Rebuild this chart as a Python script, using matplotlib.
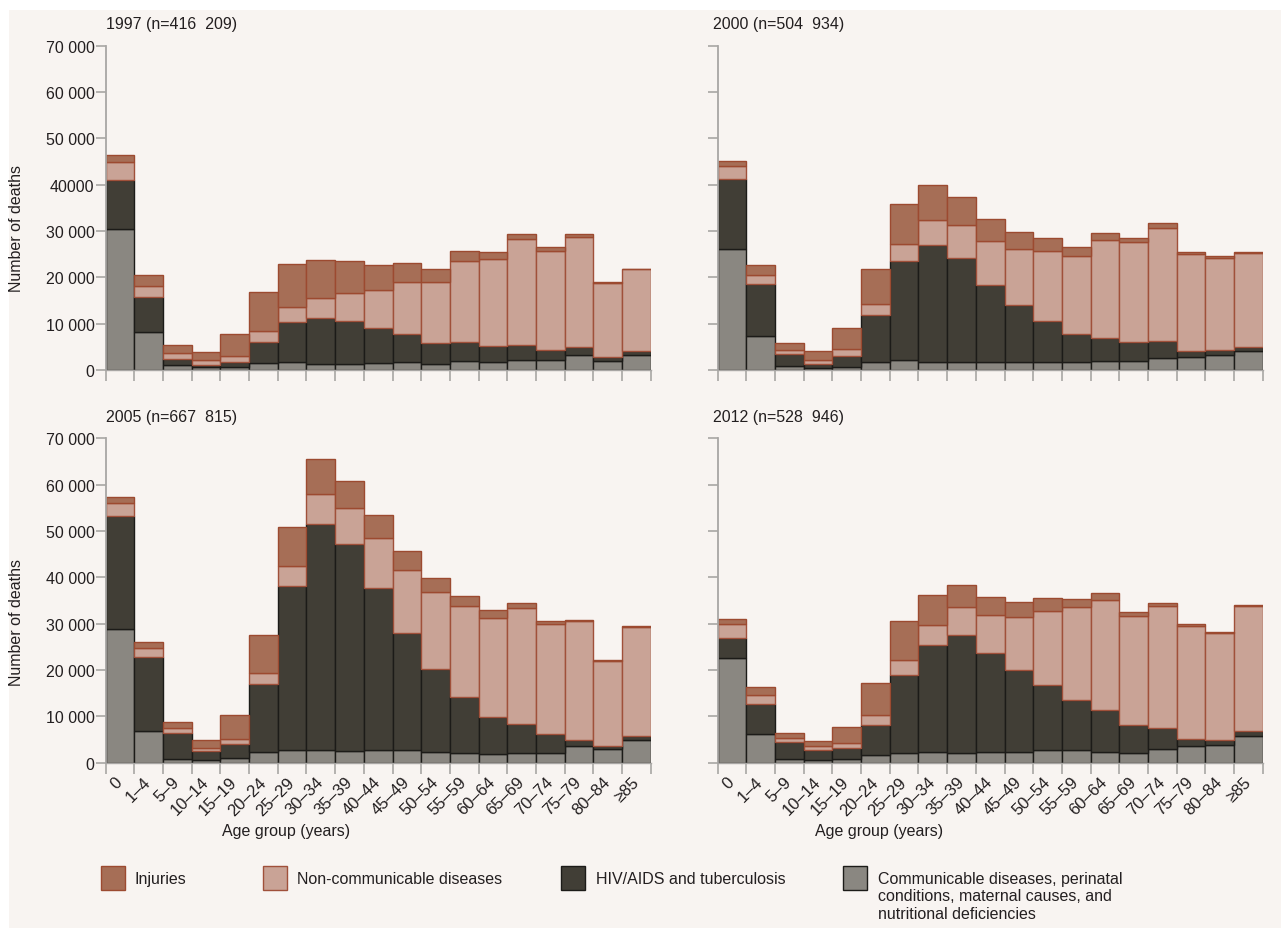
import matplotlib
matplotlib.use("Agg")
import matplotlib.pyplot as plt
from matplotlib.patches import Rectangle
import numpy as np

plt.rcParams['font.family'] = ['Liberation Sans', 'DejaVu Sans']
plt.rcParams['font.size'] = 11.5

ages = ["0", "1–4", "5–9", "10–14", "15–19", "20–24", "25–29", "30–34", "35–39",
        "40–44", "45–49", "50–54", "55–59", "60–64", "65–69", "70–74", "75–79",
        "80–84", "≥85"]

titles = ["1997 (n=416  209)", "2000 (n=504  934)", "2005 (n=667  815)", "2012 (n=528  946)"]

# deaths in thousands, per cause
comm_1997 = [30.4, 8.1, 1.0, 0.6, 0.7, 1.6, 1.65, 1.4, 1.4, 1.5, 1.65, 1.4, 1.9, 1.65, 2.1, 2.2, 3.2, 2.0, 3.2]
hiv_1997 = [10.6, 7.6, 1.3, 0.55, 1.1, 4.4, 8.65, 9.8, 9.2, 7.5, 6.15, 4.4, 4.1, 3.45, 3.4, 2.2, 1.7, 0.8, 1.0]
ncd_1997 = [4.0, 2.4, 1.4, 0.95, 1.2, 2.4, 3.2, 4.3, 6.0, 8.3, 11.3, 13.3, 17.5, 18.9, 22.7, 21.3, 23.8, 16.0, 17.5]
inj_1997 = [1.4, 2.3, 1.8, 1.8, 4.7, 8.4, 9.3, 8.2, 6.9, 5.3, 4.0, 2.6, 2.1, 1.4, 1.1, 0.8, 0.6, 0.3, 0.2]

comm_2000 = [26.1, 7.4, 0.9, 0.5, 0.7, 1.65, 2.1, 1.8, 1.8, 1.8, 1.8, 1.8, 1.65, 1.9, 1.9, 2.5, 2.9, 3.2, 4.0]
hiv_2000 = [15.2, 11.1, 2.5, 0.9, 2.4, 10.15, 21.4, 25.2, 22.3, 16.5, 12.3, 8.8, 6.15, 4.9, 4.1, 3.7, 1.3, 1.1, 1.0]
ncd_2000 = [2.8, 1.9, 1.0, 0.8, 1.4, 2.4, 3.6, 5.3, 7.2, 9.5, 12.0, 15.0, 16.9, 21.3, 21.6, 24.5, 20.8, 19.8, 20.3]
inj_2000 = [1.1, 2.3, 1.4, 1.8, 4.5, 7.6, 8.7, 7.6, 6.0, 4.9, 3.7, 2.8, 1.8, 1.4, 1.0, 1.0, 0.4, 0.4, 0.2]

comm_2005 = [28.9, 6.9, 0.9, 0.6, 1.1, 2.4, 2.7, 2.8, 2.6, 2.7, 2.7, 2.4, 2.2, 1.9, 2.2, 2.2, 3.6, 2.9, 4.8]
hiv_2005 = [24.4, 15.9, 5.5, 1.9, 2.9, 14.5, 35.5, 48.7, 44.5, 35.0, 25.2, 17.8, 11.9, 7.9, 6.2, 3.9, 1.3, 0.7, 1.0]
ncd_2005 = [2.7, 1.9, 1.0, 0.7, 1.2, 2.4, 4.2, 6.4, 7.8, 10.7, 13.7, 16.7, 19.8, 21.5, 24.9, 23.8, 25.6, 18.3, 23.4]
inj_2005 = [1.4, 1.4, 1.3, 1.6, 5.0, 8.3, 8.5, 7.6, 6.0, 5.1, 4.1, 2.9, 2.1, 1.6, 1.1, 0.7, 0.2, 0.2, 0.2]

comm_2012 = [22.7, 6.3, 0.9, 0.5, 0.9, 1.7, 2.2, 2.4, 2.2, 2.4, 2.4, 2.7, 2.7, 2.4, 2.2, 2.9, 3.6, 3.8, 5.8]
hiv_2012 = [4.2, 6.3, 3.5, 2.3, 2.3, 6.5, 16.8, 23.0, 25.4, 21.3, 17.6, 14.1, 10.8, 9.0, 6.0, 4.6, 1.5, 1.1, 1.0]
ncd_2012 = [3.0, 2.1, 0.9, 0.7, 1.0, 2.1, 3.2, 4.3, 6.0, 8.2, 11.5, 16.0, 20.0, 23.7, 23.5, 26.3, 24.4, 23.0, 27.1]
inj_2012 = [1.2, 1.7, 1.1, 1.2, 3.6, 6.8, 8.3, 6.5, 4.8, 3.8, 3.2, 2.7, 1.8, 1.5, 0.8, 0.7, 0.4, 0.3, 0.2]

panels = [
    (comm_1997, hiv_1997, ncd_1997, inj_1997),
    (comm_2000, hiv_2000, ncd_2000, inj_2000),
    (comm_2005, hiv_2005, ncd_2005, inj_2005),
    (comm_2012, hiv_2012, ncd_2012, inj_2012),
]

causes = ["Communicable diseases, perinatal\nconditions, maternal causes, and\nnutritional deficiencies",
          "HIV/AIDS and tuberculosis", "Non-communicable diseases", "Injuries"]
fills = ["#8a8781", "#413e36", "#c9a396", "#a66e56"]
edges = ["#1c1b18", "#1c1b18", "#a0503a", "#9c4a30"]

yticks = [0, 10000, 20000, 30000, 40000, 50000, 60000, 70000]
ytick_labels = ["0", "10 000", "20 000", "30 000", "40 000", "50 000", "60 000", "70 000"]

bg = "#f8f4f1"
txt = "#231f20"
axcol = "#a8a6a4"
W, H = 1281, 929

fig = plt.figure(figsize=(W / 100, H / 100), dpi=100, facecolor="white")
fig.add_artist(Rectangle((9 / W, 0), 1 - 9 / W, 1 - 11 / H, transform=fig.transFigure,
                         facecolor=bg, edgecolor="none", zorder=-10))

# panel placement in pixels: left, zero line, title y
pos = [(105.7, 371, 24), (717.7, 371, 24), (105.7, 763.7, 417.7), (717.7, 763.7, 417.7)]
aw, ah = 545.0, 324.3
x = np.arange(len(ages))

for i, (vals, (px, py, ty)) in enumerate(zip(panels, pos)):
    ax = fig.add_axes([px / W, 1 - py / H, aw / W, ah / H])
    ax.set_facecolor("none")
    bottom = np.zeros(len(ages))
    for v, fc, ec in zip(vals, fills, edges):
        v = np.array(v) * 1000
        ax.bar(x, v, bottom=bottom, width=1.0, color=fc, edgecolor=ec, linewidth=1.0)
        bottom += v
    ax.set_xlim(-0.5, len(ages) - 0.5)
    ax.set_ylim(0, 70000)
    for s in ["top", "right"]:
        ax.spines[s].set_visible(False)
    ax.spines["left"].set_color(axcol)
    ax.spines["left"].set_linewidth(1.3)
    ax.spines["bottom"].set_color(axcol)
    ax.spines["bottom"].set_linewidth(1.0)
    ax.set_yticks(yticks)
    if i % 2 == 0:
        labs = list(ytick_labels)
        if i == 0:
            labs[4] = "40000"
        ax.set_yticklabels(labs, color=txt)
    else:
        ax.set_yticklabels([])
    ax.tick_params(axis="y", length=7, width=1.2, color=axcol, pad=1)
    ax.set_xticks(np.arange(-0.5, len(ages)), minor=True)
    ax.tick_params(axis="x", which="minor", length=8, width=1.2, color=axcol)
    ax.set_xticks(x)
    if i >= 2:
        ax.set_xticklabels(ages, rotation=45, ha="right", va="center",
                           rotation_mode="anchor", color=txt, fontsize=12)
        ax.tick_params(axis="x", which="major", length=0, pad=12)
    else:
        ax.set_xticklabels([])
        ax.tick_params(axis="x", which="major", length=0)
    fig.text((px + (0 if i % 2 == 0 else -5)) / W, 1 - ty / H, titles[i], ha="left",
             va="center", color=txt, fontsize=11.5)

fig.text(17 / W, 1 - 228 / H, "Number of deaths", rotation=90, ha="center", va="center",
         color=txt, fontsize=11.5)
fig.text(17 / W, 1 - 622 / H, "Number of deaths", rotation=90, ha="center", va="center",
         color=txt, fontsize=11.5)
fig.text(286 / W, 1 - 832 / H, "Age group (years)", ha="center", va="center", color=txt, fontsize=11.5)
fig.text(879 / W, 1 - 832 / H, "Age group (years)", ha="center", va="center", color=txt, fontsize=11.5)

# legend
leg_order = [3, 2, 1, 0]
leg_x = [(101, 135), (263, 297), (561, 596), (843, 878)]
for k, (lx, tx) in zip(leg_order, leg_x):
    fig.add_artist(Rectangle((lx / W, 1 - 891 / H), 24 / W, 24 / H, transform=fig.transFigure,
                             facecolor=fills[k], edgecolor=edges[k], linewidth=1.0))
    fig.text(tx / W, 1 - 872 / H, causes[k], ha="left", va="top", color=txt,
             fontsize=11.5, linespacing=1.2)

fig.savefig("out.png", dpi=100, facecolor=fig.get_facecolor())
